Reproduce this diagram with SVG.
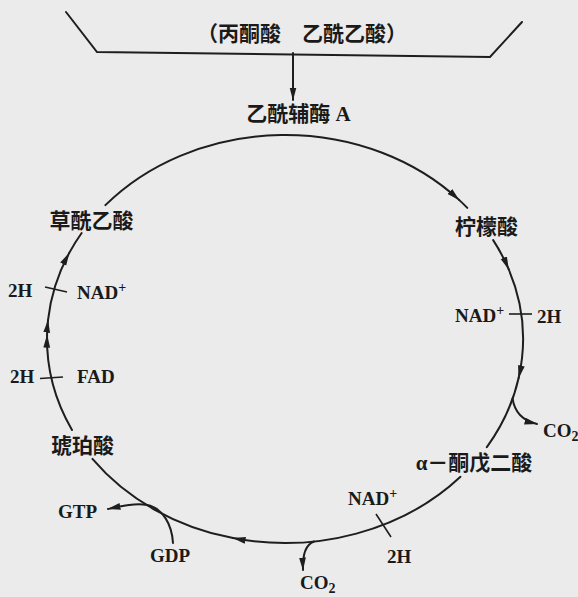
<svg xmlns="http://www.w3.org/2000/svg" width="578" height="597" viewBox="0 0 578 597">
<style>
.bg{fill:#ebebeb}
.ln{fill:none;stroke:#1e1e1e;stroke-width:2;stroke-linecap:round}
.tk{fill:none;stroke:#1e1e1e;stroke-width:1.6}
.arr{marker-end:url(#ah)}
text{font-family:"Liberation Serif","Noto Sans CJK SC",serif;font-weight:700;fill:#1a1a1a}
.cj{font-size:21px;text-anchor:middle}
.lt{font-size:19px}
.sup{font-size:14px}
</style>
<defs>
<marker id="ah" viewBox="0 0 13 8" markerWidth="13" markerHeight="8" refX="12.5" refY="4" orient="auto" markerUnits="userSpaceOnUse">
<path d="M0,0.6 L13,4 L0,7.4 z" fill="#1e1e1e"/>
</marker>
</defs>
<rect class="bg" x="0" y="0" width="578" height="597"/>

<g id="connectors">
<path id="trough" class="ln" d="M66,12 L97,52 L490,57 L522,22"/>
<path class="ln arr" d="M293,53 L293,100"/>
<!-- top arc: oxaloacetate -> citrate -->
<path class="ln arr" d="M105.38,205.16 A238,204 0 0 1 459.06,199.87"/>
<path class="ln" d="M459.06,199.87 A238,204 0 0 1 467.32,207.87"/>
<!-- right: citrate -> alpha-ketoglutarate -->
<path class="ln arr" d="M493.16,240.1 A238,204 0 0 1 508.65,269.23"/>
<path class="ln arr" d="M508.65,269.23 A238,204 0 0 1 518.63,377.93"/>
<path class="ln" d="M518.63,377.93 A238,204 0 0 1 486.84,447.1"/>
<path class="ln arr" d="M512.6,398.64 Q515.5,419 537,424"/>
<path class="tk" d="M509,314 L532,314"/>
<!-- bottom: alpha-ketoglutarate -> succinate -->
<path class="ln arr" d="M460.47,476.82 A238,204 0 0 1 233.08,538.09"/>
<path class="ln" d="M233.08,538.09 A238,204 0 0 1 92.45,458.91"/>
<path class="ln arr" d="M314,541.5 Q302,546 303,570"/>
<path class="tk" d="M376,514 L391,537"/>
<path class="ln arr" d="M173,543 C172,525 163,508 147,505 C135,503 122,506 108,509"/>
<!-- left: succinate -> oxaloacetate -->
<path class="ln arr" d="M72.01,430.02 A238,204 0 0 1 47.04,335.08"/>
<path class="ln arr" d="M47.04,335.08 A238,204 0 0 1 48.02,320.16"/>
<path class="ln arr" d="M48.02,320.16 A238,204 0 0 1 69.12,253.11"/>
<path class="ln" d="M69.12,253.11 A238,204 0 0 1 81.65,233"/>
<path class="tk" d="M40,378.5 L63,377"/>
<path class="tk" d="M45,287 L67,292"/>
</g>

<g id="source"><text class="cj" x="302" y="41">（丙酮酸　乙酰乙酸）</text></g>
<g id="acetyl-coa"><text class="cj" x="298.5" y="121">乙酰辅酶 A</text></g>
<g id="oxaloacetate"><text class="cj" x="91.5" y="228">草酰乙酸</text></g>
<g id="citrate"><text class="cj" x="486.5" y="233.5">柠檬酸</text></g>
<g id="alpha-ketoglutarate"><text class="cj" x="474" y="470">α－酮戊二酸</text></g>
<g id="succinate"><text class="cj" x="82.5" y="453">琥珀酸</text></g>

<g id="cofactor-right">
<text class="lt" x="455" y="322">NAD<tspan class="sup" dy="-7">+</tspan></text>
<text class="lt" x="537" y="323">2H</text>
<text class="lt" x="543" y="437">CO<tspan class="sup" dy="4">2</tspan></text>
</g>
<g id="cofactor-bottom">
<text class="lt" x="348" y="505">NAD<tspan class="sup" dy="-7">+</tspan></text>
<text class="lt" x="387" y="563">2H</text>
<text class="lt" x="300" y="589">CO<tspan class="sup" dy="4">2</tspan></text>
<text class="lt" x="150" y="562">GDP</text>
<text class="lt" x="58" y="518">GTP</text>
</g>
<g id="cofactor-left">
<text class="lt" x="8" y="297">2H</text>
<text class="lt" x="77" y="299">NAD<tspan class="sup" dy="-7">+</tspan></text>
<text class="lt" x="10" y="383">2H</text>
<text class="lt" x="77" y="383">FAD</text>
</g>
</svg>
